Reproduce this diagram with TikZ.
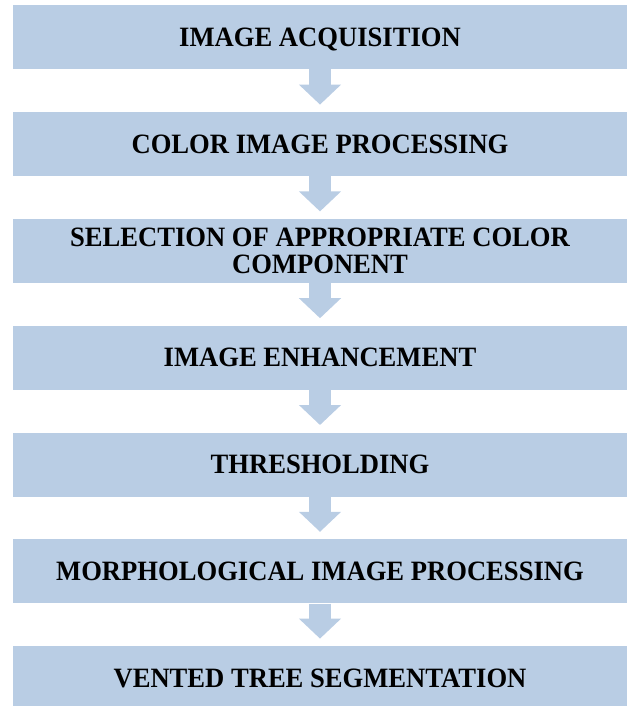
\documentclass[tikz,border=0pt]{standalone}
\usepackage{fontspec}
\setmainfont{Liberation Serif}[FakeStretch=0.95]
\usetikzlibrary{arrows.meta}
\definecolor{boxblue}{RGB}{185,205,228}
\tikzset{
  stage/.style={fill=boxblue, draw=none, minimum width=613.5bp, minimum height=64bp,
    inner sep=0pt, align=center, font=\fontsize{28bp}{28bp}\selectfont\bfseries},
  oneline/.style={stage, text height=18.5bp, text depth=0bp},
  flow/.style={draw=boxblue, line width=22bp,
    -{Triangle[width=41bp,length=20bp]}, shorten >=7.3bp}
}
\begin{document}
\begin{tikzpicture}[x=1bp,y=-1bp]
\useasboundingbox (0,0) rectangle (627,706);
\node[oneline] (s1) at (320,37.3) {IMAGE ACQUISITION};
\node[oneline] (s2) at (320,144.1) {COLOR IMAGE PROCESSING};
\node[stage] (s3) at (320,250.9) {SELECTION OF APPROPRIATE COLOR\\[-1bp]COMPONENT};
\node[oneline] (s4) at (320,357.7) {IMAGE ENHANCEMENT};
\node[oneline] (s5) at (320,464.5) {THRESHOLDING};
\node[oneline] (s6) at (320,571.3) {MORPHOLOGICAL IMAGE PROCESSING};
\node[oneline] (s7) at (320,678.1) {VENTED TREE SEGMENTATION};
\foreach \a/\b in {s1/s2,s2/s3,s3/s4,s4/s5,s5/s6,s6/s7}
  \draw[flow] (\a.south) -- (\b.north);
\end{tikzpicture}
\end{document}
